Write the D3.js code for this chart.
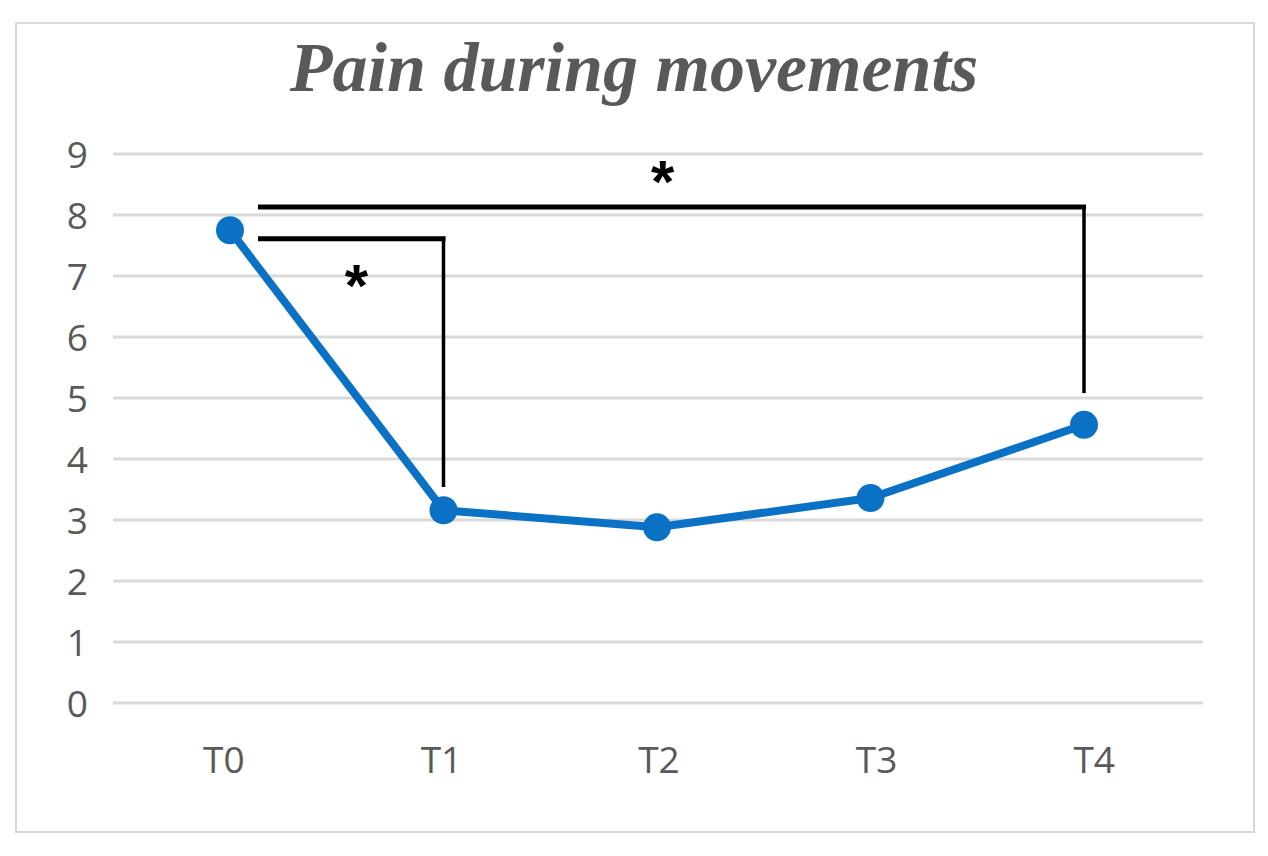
<!DOCTYPE html>
<html>
<head>
<meta charset="utf-8">
<script src="https://cdn.jsdelivr.net/npm/d3@7"></script>
<style>
  html, body { margin: 0; padding: 0; background: #fff; }
  svg { display: block; }
</style>
</head>
<body>
<svg id="chart" width="1268" height="856"></svg>
<script>
// ---- data ----
const categories = ["T0", "T1", "T2", "T3", "T4"];
const painValues = [7.75, 3.16, 2.88, 3.36, 4.56];
const yTicks = [0, 1, 2, 3, 4, 5, 6, 7, 8, 9];
const titleText = "Pain during movements";
const bracketFrom = ["T0", "T0"];
const bracketTo = ["T1", "T4"];
const bracketTop = [7.61, 8.13];
const bracketBottom = [3.54, 5.08];
const starLevel = [6.97, 8.67];
const starLabel = ["*", "*"];

// ---- layout ----
const W = 1268, H = 856;
const svg = d3.select("#chart");
const gray = "#595959";
const blue = "#0a71c4";
const starFrac = [0.53, 0.49];

svg.append("rect")
  .attr("x", 16).attr("y", 23).attr("width", 1238).attr("height", 809)
  .attr("fill", "#fff").attr("stroke", "#d9d9d9").attr("stroke-width", 2);

svg.append("text")
  .attr("x", W / 2).attr("y", 91)
  .attr("text-anchor", "middle")
  .attr("font-family", "'Liberation Serif', 'Times New Roman', serif")
  .attr("font-weight", "bold").attr("font-style", "italic")
  .attr("font-size", 70).attr("fill", gray)
  .text(titleText);

const y = d3.scaleLinear().domain([0, 9]).range([703, 154]);
const xBand = d3.scaleBand().domain(categories).range([115, 1203]);
const xMark = d3.scalePoint().domain(categories).range([230, 1084]);

// gridlines
svg.append("g").selectAll("line").data(yTicks).join("line")
  .attr("x1", 113).attr("x2", 1203)
  .attr("y1", d => y(d)).attr("y2", d => y(d))
  .attr("stroke", "#d9d9d9").attr("stroke-width", 3);

// y axis
const yAxis = svg.append("g")
  .attr("transform", "translate(113,0)")
  .call(d3.axisLeft(y).tickValues(yTicks).tickSize(0).tickPadding(25).tickFormat(d3.format("d")));
yAxis.select(".domain").remove();
yAxis.selectAll("text")
  .attr("font-family", "'Open Sans', sans-serif")
  .attr("font-size", 37).attr("fill", gray).attr("dy", "0.36em");

// x axis
const xAxis = svg.append("g")
  .attr("transform", "translate(0,703)")
  .call(d3.axisBottom(xBand).tickSize(0).tickPadding(0));
xAxis.select(".domain").remove();
xAxis.selectAll("text")
  .attr("font-family", "'Open Sans', sans-serif")
  .attr("font-size", 37).attr("fill", gray)
  .attr("dy", 0).attr("y", 70);

// brackets
const brackets = bracketFrom.map((f, i) => ({
  from: f, to: bracketTo[i], top: bracketTop[i], bottom: bracketBottom[i],
  star: starLevel[i], label: starLabel[i], frac: starFrac[i]
}));
const bg = svg.append("g");
brackets.forEach(b => {
  const x0 = xMark(b.from) + 28, x1 = xMark(b.to);
  bg.append("line")
    .attr("x1", x0).attr("x2", x1 + 2)
    .attr("y1", y(b.top)).attr("y2", y(b.top))
    .attr("stroke", "#000").attr("stroke-width", 5);
  bg.append("line")
    .attr("x1", x1).attr("x2", x1)
    .attr("y1", y(b.top) - 2).attr("y2", y(b.bottom))
    .attr("stroke", "#000").attr("stroke-width", 3.5);
  bg.append("text")
    .attr("x", x0 + (x1 - x0) * b.frac).attr("y", y(b.star))
    .attr("text-anchor", "middle").attr("dy", "0.47em")
    .attr("font-family", "'Liberation Sans', Arial, sans-serif")
    .attr("font-weight", "bold").attr("font-size", 60)
    .attr("fill", "#000")
    .text(b.label);
});

// line + markers
const pts = categories.map((c, i) => ({ c, v: painValues[i] }));
svg.append("path")
  .datum(pts)
  .attr("fill", "none").attr("stroke", blue).attr("stroke-width", 8)
  .attr("stroke-linejoin", "round")
  .attr("d", d3.line().x(d => xMark(d.c)).y(d => y(d.v)));
svg.append("g").selectAll("circle").data(pts).join("circle")
  .attr("cx", d => xMark(d.c)).attr("cy", d => y(d.v))
  .attr("r", 14).attr("fill", blue);
</script>
</body>
</html>
